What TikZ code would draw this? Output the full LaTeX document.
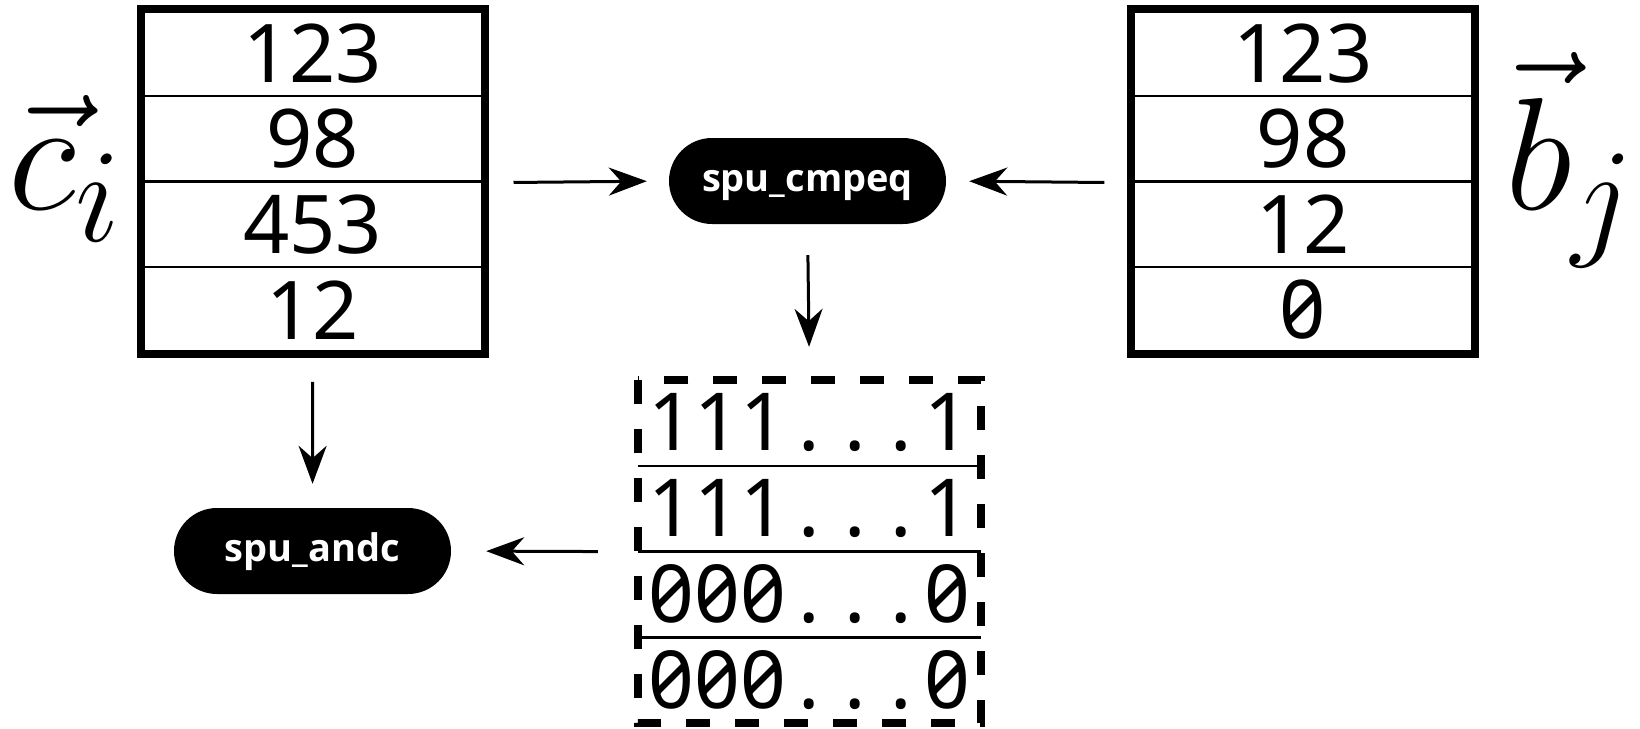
\documentclass[tikz,border=0pt]{standalone}
\usepackage{graphicx}
\usepackage{fontspec}
\newfontfamily\cellfont{Noto Sans}[Numbers={Monospaced,SlashedZero}]
\newfontfamily\opfont{Open Sans}
\usetikzlibrary{arrows.meta, positioning, calc}
\newcommand\mc[1]{\makebox[0.575em]{#1}}
\newcommand\bitrun[1]{\mc{#1}\mc{#1}\mc{#1}\mc.\mc.\mc.\mc{#1}}

\begin{document}
\begin{tikzpicture}[x=1pt, y=-1pt,
  cellbox/.style={draw, line width=2.5pt, minimum width=341pt, minimum height=85.5pt, inner sep=0pt, font=\cellfont\fontsize{81}{81}\selectfont},
  bitrow/.style={minimum width=343pt, minimum height=85.75pt, inner sep=0pt, font=\cellfont\fontsize{80}{80}\selectfont},
  tabframe/.style={line width=8pt},
  opnode/.style={rectangle, rounded corners=43pt, fill=black, text=white, minimum width=277pt, minimum height=86pt, inner sep=0pt, text height=20pt, text depth=0pt, font=\opfont\bfseries\fontsize{38}{38}\selectfont},
  vlbl/.style={anchor=base west, inner sep=0pt, font=\Huge},
  arr/.style={-{Stealth[length=38pt, width=28pt]}, line width=3pt}
]
\useasboundingbox (0,0) rectangle (1640,728);
\foreach \i/\v in {1/123, 2/98, 3/453, 4/12}{
  \node[cellbox] (c\i) at (312.75, {10.5+85.5*(\i-0.5)}) {\v};
}
\foreach \i/\v in {1/123, 2/98, 3/12, 4/0}{
  \node[cellbox] (b\i) at (1303, {10.5+85.5*(\i-0.5)}) {\v};
}
\draw[tabframe] (c1.north west) rectangle (c4.south east);
\draw[tabframe] (b1.north west) rectangle (b4.south east);
\node[vlbl] (clbl) at (8,209) {\scalebox{6.43}{$\vec{c}_i$}};
\node[vlbl] (blbl) at (1505,209) {\scalebox{6.43}{$\vec{b}_j$}};

\node[opnode] (cmpeq) at (807.5,181) {spu\_cmpeq};
\node[opnode] (andc) at (312.5,551) {spu\_andc};

\foreach \i/\d in {1/1, 2/1, 3/0, 4/0}{
  \node[bitrow] (m\i) at (809.5, {380+85.75*(\i-0.5)}) {\bitrun{\d}};
}
\foreach \i in {1,2,3}{
  \draw[line width=2.5pt] (m\i.south west) -- (m\i.south east);
}
\draw[tabframe, dash pattern=on 24pt off 25pt] (m1.north west) rectangle (m4.south east);

\draw[arr, shorten <=29pt, shorten >=22pt] (c2.south east) -- (cmpeq.west);
\draw[arr, shorten <=27pt, shorten >=23pt] (b2.south west) -- (cmpeq.east);
\draw[arr, shorten <=31pt, shorten >=33pt] (cmpeq.south) -- (m1.north);
\draw[arr, shorten <=28pt, shorten >=24pt] (c4.south) -- (andc.north);
\draw[arr, shorten <=40pt, shorten >=35pt] (m2.south west) -- (andc.east);
\end{tikzpicture}
\end{document}
